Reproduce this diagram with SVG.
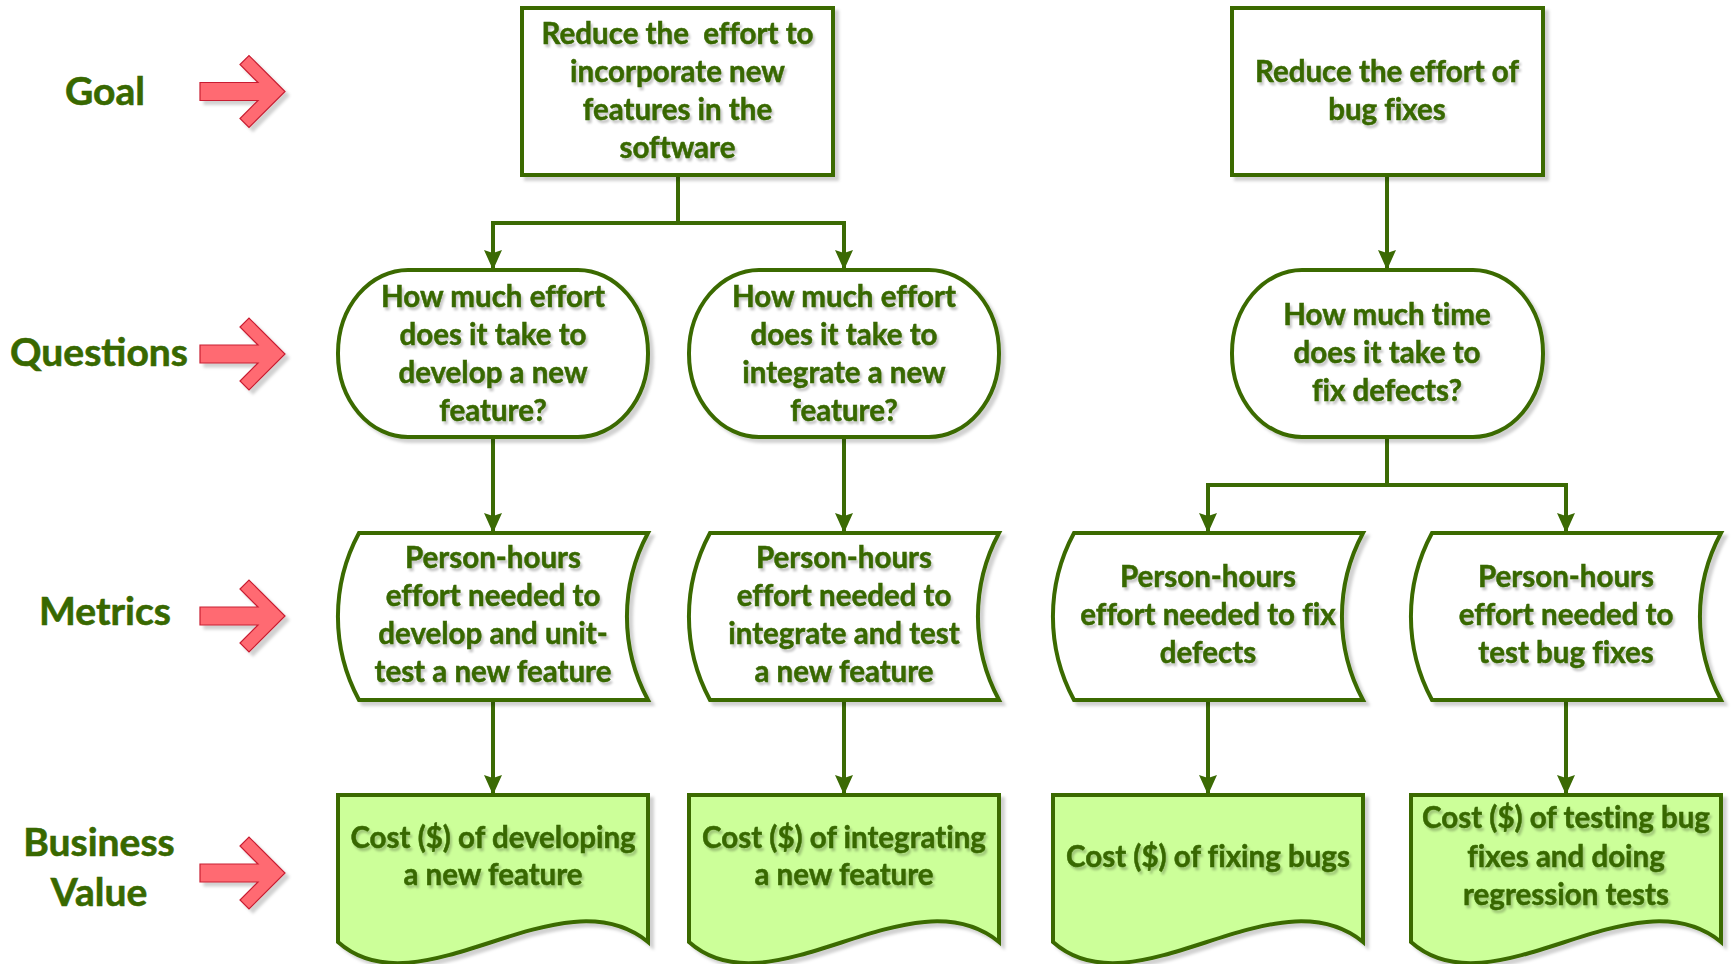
<svg xmlns="http://www.w3.org/2000/svg" width="1731" height="964" viewBox="0 0 1731 964">
  <style>
    .box { fill: #ffffff; stroke: #3b6a04; stroke-width: 4; filter: url(#shadow); }
    .value { fill: #ccff99; stroke: #3b6a04; stroke-width: 4; filter: url(#shadow); }
    .txt { font-family: "Lato", "Open Sans", sans-serif; font-weight: bold; font-size: 29.5px; fill: #386800; stroke: #386800; stroke-width: 0.5; text-anchor: middle; font-variant-ligatures: none; filter: url(#tshadow); }
    .lbl { font-family: "Lato", "Open Sans", sans-serif; font-weight: bold; font-size: 39px; fill: #386800; stroke: #386800; stroke-width: 0.6; text-anchor: middle; }
    .conn { fill: none; stroke: #3b6a04; stroke-width: 4; marker-end: url(#head); }
    .red { fill: #ff6b72; stroke: #c81e32; stroke-width: 1.2; filter: url(#shadow); }
  </style>
  <defs>
    <filter id="shadow" x="-10%" y="-10%" width="125%" height="125%">
      <feDropShadow dx="4" dy="4" stdDeviation="1.5" flood-color="#000" flood-opacity="0.18"/>
    </filter>
    <filter id="tshadow" x="-10%" y="-20%" width="125%" height="150%">
      <feDropShadow dx="2" dy="3" stdDeviation="1" flood-color="#000" flood-opacity="0.22"/>
    </filter>
    <marker id="head" markerUnits="userSpaceOnUse" markerWidth="20" markerHeight="22" viewBox="0 0 20 22" refX="19" refY="10" orient="auto">
      <path d="M0,1 L20,10 L0,19 L3,10 Z" fill="#3b6a04"/>
    </marker>
    <polygon id="redArrow" points="200,-9 258,-9 240,-27 249,-36 285,0 249,36 240,27 258,9 200,9"/>
  </defs>

  <!-- row labels -->
  <g id="labels">
    <text class="lbl" x="105" y="105">Goal</text>
    <text class="lbl" x="99" y="366">Questions</text>
    <text class="lbl" x="105" y="625">Metrics</text>
    <text class="lbl" x="99" y="856">Business</text>
    <text class="lbl" x="99" y="906">Value</text>
    <use href="#redArrow" class="red" transform="translate(0,91.5)"/>
    <use href="#redArrow" class="red" transform="translate(0,354)"/>
    <use href="#redArrow" class="red" transform="translate(0,616)"/>
    <use href="#redArrow" class="red" transform="translate(0,873)"/>
  </g>

  <!-- connectors -->
  <g id="connectors">
    <path class="conn" d="M678,175 V223 H493 V269"/>
    <path class="conn" d="M678,175 V223 H844 V269"/>
    <path class="conn" d="M1387,175 V269"/>
    <path class="conn" d="M493,437 V532"/>
    <path class="conn" d="M844,437 V532"/>
    <path class="conn" d="M1387,437 V485 H1208 V532"/>
    <path class="conn" d="M1387,437 V485 H1566 V532"/>
    <path class="conn" d="M493,700 V794"/>
    <path class="conn" d="M844,700 V794"/>
    <path class="conn" d="M1208,700 V794"/>
    <path class="conn" d="M1566,700 V794"/>
  </g>

  <!-- goals -->
  <g id="goal-features">
    <rect class="box" x="522" y="8" width="311" height="167"/>
    <text class="txt" x="677.5" y="43.5" xml:space="preserve">Reduce the  effort to</text>
    <text class="txt" x="677.5" y="81.6">incorporate new</text>
    <text class="txt" x="677.5" y="119.7">features in the</text>
    <text class="txt" x="677.5" y="157.8">software</text>
  </g>
  <g id="goal-bugs">
    <rect class="box" x="1232" y="8" width="311" height="167"/>
    <text class="txt" x="1387" y="81.6">Reduce the effort of</text>
    <text class="txt" x="1387" y="119.7">bug fixes</text>
  </g>

  <!-- questions -->
  <g id="q-develop">
    <rect class="box" x="338" y="270" width="310" height="167" rx="70" ry="83"/>
    <text class="txt" x="493" y="306.5">How much effort</text>
    <text class="txt" x="493" y="344.5">does it take to</text>
    <text class="txt" x="493" y="382.5">develop a new</text>
    <text class="txt" x="493" y="420.5">feature?</text>
  </g>
  <g id="q-integrate">
    <rect class="box" x="689" y="270" width="310" height="167" rx="70" ry="83"/>
    <text class="txt" x="844" y="306.5">How much effort</text>
    <text class="txt" x="844" y="344.5">does it take to</text>
    <text class="txt" x="844" y="382.5">integrate a new</text>
    <text class="txt" x="844" y="420.5">feature?</text>
  </g>
  <g id="q-fix">
    <rect class="box" x="1232" y="270" width="311" height="167" rx="70" ry="83"/>
    <text class="txt" x="1387" y="325">How much time</text>
    <text class="txt" x="1387" y="363">does it take to</text>
    <text class="txt" x="1387" y="401">fix defects?</text>
  </g>

  <!-- metrics -->
  <g id="m-develop">
    <path class="box" d="M359,533 H648 A176,176 0 0 0 648,700 H359 A176,176 0 0 1 359,533 Z"/>
    <text class="txt" x="493" y="568.3">Person-hours</text>
    <text class="txt" x="493" y="606">effort needed to</text>
    <text class="txt" x="493" y="644">develop and unit-</text>
    <text class="txt" x="493" y="681.7">test a new feature</text>
  </g>
  <g id="m-integrate">
    <path class="box" d="M710,533 H999 A176,176 0 0 0 999,700 H710 A176,176 0 0 1 710,533 Z"/>
    <text class="txt" x="844" y="568.3">Person-hours</text>
    <text class="txt" x="844" y="606">effort needed to</text>
    <text class="txt" x="844" y="644">integrate and test</text>
    <text class="txt" x="844" y="681.7">a new feature</text>
  </g>
  <g id="m-fix">
    <path class="box" d="M1074,533 H1363 A176,176 0 0 0 1363,700 H1074 A176,176 0 0 1 1074,533 Z"/>
    <text class="txt" x="1208" y="587.3">Person-hours</text>
    <text class="txt" x="1208" y="625">effort needed to fix</text>
    <text class="txt" x="1208" y="662.7">defects</text>
  </g>
  <g id="m-test">
    <path class="box" d="M1432,533 H1721 A176,176 0 0 0 1721,700 H1432 A176,176 0 0 1 1432,533 Z"/>
    <text class="txt" x="1566" y="587.3">Person-hours</text>
    <text class="txt" x="1566" y="625">effort needed to</text>
    <text class="txt" x="1566" y="662.7">test bug fixes</text>
  </g>

  <!-- business value -->
  <g id="b-develop">
    <path class="value" d="M338,795 H648 V942 C560,870 420,1015 338,942 Z"/>
    <text class="txt" x="493" y="847.7">Cost ($) of developing</text>
    <text class="txt" x="493" y="885">a new feature</text>
  </g>
  <g id="b-integrate">
    <path class="value" d="M689,795 H999 V942 C911,870 771,1015 689,942 Z"/>
    <text class="txt" x="844" y="847.7">Cost ($) of integrating</text>
    <text class="txt" x="844" y="885">a new feature</text>
  </g>
  <g id="b-fix">
    <path class="value" d="M1053,795 H1363 V942 C1275,870 1135,1015 1053,942 Z"/>
    <text class="txt" x="1208" y="866.7">Cost ($) of fixing bugs</text>
  </g>
  <g id="b-test">
    <path class="value" d="M1411,795 H1721 V942 C1633,870 1493,1015 1411,942 Z"/>
    <text class="txt" x="1566" y="828.3">Cost ($) of testing bug</text>
    <text class="txt" x="1566" y="866.7">fixes and doing</text>
    <text class="txt" x="1566" y="905">regression tests</text>
  </g>
</svg>
